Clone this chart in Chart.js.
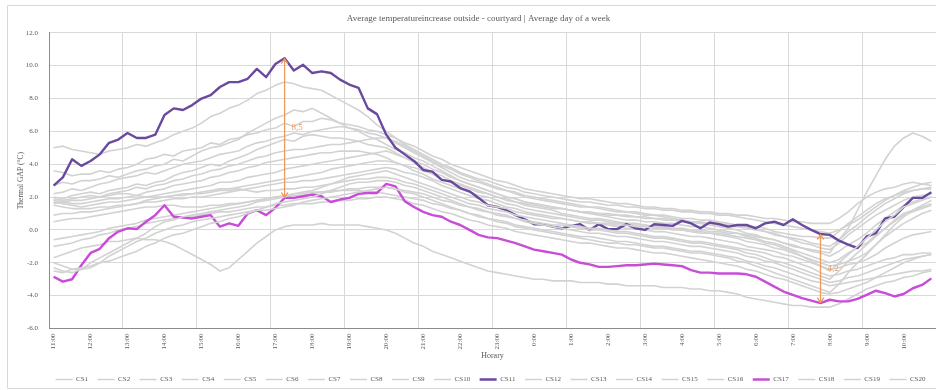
<!DOCTYPE html>
<html>
<head>
<meta charset="utf-8">
<script src="https://cdn.jsdelivr.net/npm/chart.js@4.4.1/dist/chart.umd.min.js"></script>
<style>
  html, body { margin: 0; padding: 0; background: #ffffff; }
  canvas { display: block; }
</style>
</head>
<body>
<canvas id="chart" width="936" height="390"></canvas>
<script>
// Quarter-hour time steps of the average day, 11:00 to 10:45
const times = [
  '11:00','11:15','11:30','11:45','12:00','12:15','12:30','12:45','13:00','13:15','13:30','13:45',
  '14:00','14:15','14:30','14:45','15:00','15:15','15:30','15:45','16:00','16:15','16:30','16:45',
  '17:00','17:15','17:30','17:45','18:00','18:15','18:30','18:45','19:00','19:15','19:30','19:45',
  '20:00','20:15','20:30','20:45','21:00','21:15','21:30','21:45','22:00','22:15','22:30','22:45',
  '23:00','23:15','23:30','23:45','0:00','0:15','0:30','0:45','1:00','1:15','1:30','1:45',
  '2:00','2:15','2:30','2:45','3:00','3:15','3:30','3:45','4:00','4:15','4:30','4:45',
  '5:00','5:15','5:30','5:45','6:00','6:15','6:30','6:45','7:00','7:15','7:30','7:45',
  '8:00','8:15','8:30','8:45','9:00','9:15','9:30','9:45','10:00','10:15','10:30','10:45'
];

// Thermal gap (°C) per case study
const CS1 = [5.0,5.1,4.9,4.8, 4.7,4.6,4.8,4.9, 5.0,5.2,5.1,5.3, 5.5,5.8,6.0,6.2, 6.5,6.9,7.1,7.4, 7.6,7.9,8.3,8.5,
  8.8,9.0,8.9,8.7, 8.6,8.5,8.2,7.9, 7.6,7.3,6.9,6.4, 6.0,5.6,5.2,4.9, 4.6,4.3,4.0,3.8, 3.5,3.3,3.1,3.0,
  2.8,2.6,2.5,2.3, 2.2,2.1,2.0,1.9, 1.8,1.7,1.7,1.6, 1.5,1.5,1.4,1.4, 1.3,1.3,1.2,1.2, 1.1,1.1,1.0,1.0,
  0.9,0.9,0.8,0.7, 0.6,0.5,0.4,0.3, 0.2,0.1,0.0,-0.1, -0.2,0.0,0.3,0.6, 1.0,1.4,1.8,2.1, 2.4,2.6,2.8,2.7];
const CS2 = [3.6,3.5,3.3,3.4, 3.4,3.6,3.5,3.7, 3.8,4.0,4.3,4.4, 4.6,4.5,4.8,4.9, 5.0,5.3,5.2,5.5, 5.6,5.8,5.9,6.1,
  6.2,6.5,6.3,6.6, 6.6,6.8,6.7,6.5, 6.4,6.3,6.1,6.0, 5.8,5.6,5.3,5.1, 4.8,4.5,4.3,4.0, 3.8,3.6,3.4,3.2,
  3.0,2.9,2.7,2.5, 2.4,2.3,2.2,2.1, 2.0,1.9,1.9,1.8, 1.7,1.6,1.6,1.5, 1.4,1.4,1.3,1.3, 1.2,1.2,1.1,1.1,
  1.0,1.0,0.9,0.9, 0.8,0.7,0.7,0.6, 0.5,0.5,0.4,0.4, 0.4,0.7,1.1,1.6, 2.0,2.3,2.5,2.6, 2.8,2.9,2.8,2.9];
const CS3 = [2.7,2.9,2.8,3.0, 3.0,3.1,3.3,3.2, 3.4,3.6,3.7,3.9, 4.0,4.3,4.2,4.5, 4.8,5.0,5.1,5.3, 5.5,5.9,6.2,6.5,
  6.8,7.0,7.3,7.2, 7.4,7.1,6.8,6.5, 6.2,6.0,5.7,5.5, 5.2,4.9,4.7,4.4, 4.2,3.9,3.6,3.3, 3.0,2.8,2.6,2.4,
  2.2,2.0,1.9,1.7, 1.6,1.5,1.4,1.3, 1.2,1.1,1.0,1.0, 0.9,0.9,0.8,0.8, 0.7,0.7,0.6,0.6, 0.5,0.5,0.4,0.4,
  0.3,0.2,0.2,0.1, 0.0,-0.1,-0.2,-0.4, -0.5,-0.6,-0.8,-0.9, -1.0,-0.6,-0.1,0.3, 0.8,1.2,1.6,1.9, 2.2,2.4,2.5,2.5];
const CS4 = [2.2,2.3,2.5,2.4, 2.6,2.8,2.9,3.1, 3.2,3.3,3.5,3.4, 3.6,3.8,4.0,4.1, 4.2,4.4,4.6,4.7, 4.8,5.1,5.3,5.4,
  5.6,5.7,5.9,5.8, 6.0,6.1,6.2,6.3, 6.2,6.1,5.9,5.8, 5.6,5.3,5.0,4.7, 4.4,4.1,3.8,3.5, 3.2,3.0,2.9,2.7,
  2.5,2.4,2.2,2.0, 1.9,1.8,1.7,1.6, 1.5,1.4,1.4,1.3, 1.2,1.1,1.1,1.0, 0.9,0.9,0.8,0.7, 0.6,0.5,0.4,0.3,
  0.2,0.1,0.0,-0.2, -0.3,-0.5,-0.6,-0.8, -1.0,-1.1,-1.2,-1.3, -1.4,-0.6,0.1,1.2, 2.3,3.3,4.3,5.1, 5.6,5.9,5.7,5.4];
const CS5 = [2.0,1.9,2.1,2.2, 2.3,2.2,2.4,2.5, 2.6,2.8,2.7,2.9, 3.0,3.3,3.5,3.6, 3.8,4.0,3.9,4.2, 4.4,4.6,4.9,5.1,
  5.3,5.5,5.4,5.7, 5.8,5.7,5.6,5.6, 5.5,5.4,5.2,5.1, 5.0,4.7,4.4,4.1, 3.8,3.5,3.3,3.0, 2.8,2.6,2.4,2.2,
  2.0,1.9,1.7,1.6, 1.5,1.4,1.3,1.3, 1.2,1.1,1.1,1.0, 1.0,0.9,0.9,0.8, 0.8,0.7,0.7,0.6, 0.6,0.5,0.5,0.4,
  0.4,0.3,0.3,0.2, 0.2,0.1,-0.1,-0.2, -0.3,-0.4,-0.4,-0.5, -0.5,-0.1,0.4,0.8, 1.2,1.6,1.9,2.1, 2.3,2.4,2.5,2.6];
const CS6 = [1.9,1.8,1.9,2.0, 2.1,2.0,2.2,2.3, 2.4,2.6,2.5,2.7, 2.8,3.0,3.1,3.3, 3.4,3.6,3.7,3.9, 4.0,4.2,4.4,4.5,
  4.7,4.8,4.9,4.9, 5.0,5.1,5.2,5.2, 5.3,5.4,5.5,5.6, 5.6,5.4,5.1,4.8, 4.5,4.2,3.9,3.7, 3.4,3.2,3.0,2.8,
  2.6,2.4,2.3,2.1, 2.0,1.9,1.8,1.7, 1.6,1.5,1.4,1.4, 1.3,1.2,1.1,1.1, 1.0,0.9,0.9,0.8, 0.7,0.7,0.6,0.6,
  0.5,0.4,0.3,0.2, 0.1,-0.1,-0.3,-0.4, -0.6,-0.8,-0.9,-1.1, -1.2,-0.8,-0.3,0.1, 0.5,0.9,1.2,1.5, 1.8,2.0,2.1,2.2];
const CS7 = [1.8,1.7,1.6,1.6, 1.7,1.8,1.9,1.9, 2.0,2.1,2.3,2.4, 2.5,2.7,2.8,2.9, 3.0,3.2,3.3,3.5, 3.6,3.8,3.9,4.1,
  4.2,4.3,4.4,4.5, 4.6,4.7,4.7,4.8, 4.8,4.8,4.7,4.6, 4.4,4.1,3.9,3.6, 3.4,3.1,2.9,2.7, 2.5,2.3,2.1,2.0,
  1.8,1.6,1.5,1.3, 1.2,1.1,1.0,0.9, 0.8,0.7,0.6,0.6, 0.5,0.4,0.4,0.3, 0.3,0.2,0.2,0.1, 0.1,0.0,0.0,-0.1,
  -0.1,-0.2,-0.2,-0.3, -0.4,-0.5,-0.6,-0.8, -0.9,-1.1,-1.3,-1.4, -1.6,-1.3,-0.9,-0.6, -0.2,0.3,0.7,1.1, 1.5,1.7,1.9,2.0];
const CS8 = [1.7,1.6,1.5,1.4, 1.5,1.6,1.7,1.7, 1.8,1.9,2.0,2.1, 2.2,2.3,2.4,2.5, 2.6,2.7,2.9,2.9, 3.0,3.2,3.3,3.4,
  3.5,3.7,3.8,3.9, 4.0,4.1,4.2,4.3, 4.4,4.5,4.6,4.7, 4.8,4.6,4.4,4.2, 4.0,3.7,3.5,3.2, 3.0,2.8,2.6,2.4,
  2.2,2.0,1.9,1.7, 1.6,1.5,1.4,1.3, 1.2,1.1,1.0,0.9, 0.8,0.7,0.6,0.6, 0.5,0.5,0.4,0.4, 0.3,0.2,0.2,0.1,
  0.0,-0.1,-0.2,-0.4, -0.5,-0.7,-0.8,-1.0, -1.2,-1.4,-1.6,-1.8, -2.0,-1.8,-1.4,-1.1, -0.8,-0.3,0.1,0.6, 1.0,1.2,1.4,1.6];
const CS9 = [1.6,1.7,1.8,1.8, 1.9,2.0,2.1,2.2, 2.2,2.1,2.0,2.0, 2.0,2.1,2.2,2.2, 2.3,2.4,2.5,2.5, 2.6,2.7,2.8,2.9,
  3.0,3.1,3.2,3.3, 3.4,3.5,3.7,3.8, 3.9,4.0,4.1,4.2, 4.2,4.1,3.9,3.8, 3.6,3.4,3.1,2.9, 2.7,2.5,2.3,2.2,
  2.0,1.8,1.7,1.5, 1.4,1.3,1.2,1.0, 0.9,0.8,0.7,0.7, 0.6,0.5,0.4,0.4, 0.3,0.2,0.1,0.1, 0.0,-0.1,-0.2,-0.2,
  -0.3,-0.4,-0.5,-0.7, -0.8,-0.9,-1.1,-1.2, -1.4,-1.6,-1.8,-2.0, -2.2,-2.1,-1.9,-1.7, -1.4,-0.9,-0.4,0.0, 0.4,0.7,1.0,1.2];
const CS10 = [1.5,1.4,1.3,1.3, 1.3,1.4,1.4,1.5, 1.5,1.6,1.7,1.7, 1.8,1.9,1.9,2.0, 2.0,2.1,2.2,2.3, 2.4,2.5,2.6,2.7,
  2.8,2.9,2.9,3.0, 3.0,3.1,3.2,3.3, 3.4,3.5,3.6,3.7, 3.8,3.7,3.5,3.4, 3.2,3.0,2.7,2.5, 2.3,2.1,1.9,1.8,
  1.6,1.4,1.3,1.1, 1.0,0.9,0.8,0.7, 0.6,0.5,0.4,0.4, 0.3,0.2,0.1,0.1, 0.0,-0.1,-0.1,-0.2, -0.3,-0.4,-0.4,-0.5,
  -0.6,-0.7,-0.8,-1.0, -1.1,-1.2,-1.3,-1.5, -1.6,-1.8,-2.0,-2.2, -2.4,-2.3,-2.1,-2.0, -1.8,-1.5,-1.1,-0.8, -0.5,-0.3,-0.2,-0.1];
const CS11 = [2.7,3.2,4.3,3.9, 4.2,4.6,5.3,5.5, 5.9,5.6,5.6,5.8, 7.0,7.4,7.3,7.6, 8.0,8.2,8.7,9.0, 9.0,9.2,9.8,9.3,
  10.1,10.45,9.7,10.05, 9.55,9.65,9.55,9.15, 8.85,8.65,7.4,7.05, 5.8,5.0,4.6,4.2, 3.65,3.55,3.05,2.95, 2.55,2.35,1.95,1.5,
  1.4,1.2,0.9,0.65, 0.35,0.35,0.2,0.1, 0.25,0.35,0.0,0.35, 0.05,0.05,0.35,0.1, 0.0,0.35,0.3,0.25, 0.55,0.4,0.1,0.45,
  0.35,0.2,0.3,0.3, 0.1,0.4,0.5,0.3, 0.65,0.3,0.0,-0.25, -0.3,-0.65,-0.9,-1.1, -0.4,-0.2,0.7,0.8, 1.4,1.95,1.95,2.3];
const CS12 = [0.9,1.0,1.0,1.1, 1.1,1.2,1.3,1.4, 1.5,1.6,1.8,1.9, 2.0,2.1,2.1,2.2, 2.2,2.3,2.4,2.4, 2.5,2.4,2.3,2.4,
  2.4,2.5,2.5,2.6, 2.6,2.7,2.8,2.9, 3.0,3.1,3.1,3.2, 3.2,3.1,2.9,2.8, 2.6,2.4,2.2,2.0, 1.8,1.6,1.5,1.3,
  1.2,1.1,0.9,0.8, 0.7,0.6,0.5,0.4, 0.3,0.2,0.1,0.1, 0.0,-0.1,-0.1,-0.2, -0.3,-0.4,-0.4,-0.5, -0.6,-0.7,-0.7,-0.8,
  -0.9,-1.0,-1.1,-1.2, -1.3,-1.4,-1.6,-1.7, -1.9,-2.1,-2.3,-2.6, -2.8,-2.7,-2.5,-2.4, -2.2,-2.0,-1.8,-1.7, -1.5,-1.5,-1.4,-1.4];
const CS13 = [0.5,0.6,0.7,0.7, 0.8,0.9,1.0,1.1, 1.2,1.3,1.4,1.4, 1.5,1.5,1.4,1.4, 1.4,1.5,1.5,1.6, 1.6,1.7,1.8,1.9,
  2.0,2.0,2.1,2.1, 2.2,2.3,2.3,2.4, 2.5,2.5,2.6,2.6, 2.6,2.5,2.4,2.3, 2.2,2.0,1.8,1.7, 1.5,1.4,1.2,1.1,
  0.9,0.8,0.7,0.5, 0.4,0.3,0.2,0.1, 0.0,-0.1,-0.2,-0.2, -0.3,-0.4,-0.4,-0.5, -0.6,-0.7,-0.7,-0.8, -0.9,-1.0,-1.0,-1.1,
  -1.2,-1.3,-1.4,-1.6, -1.7,-1.9,-2.0,-2.2, -2.4,-2.6,-2.8,-3.0, -3.2,-3.1,-2.9,-2.8, -2.6,-2.4,-2.2,-2.0, -1.8,-1.7,-1.6,-1.5];
const CS14 = [-0.6,-0.5,-0.4,-0.3, -0.2,-0.1,0.1,0.2, 0.3,0.4,0.6,0.7, 0.8,0.9,1.0,1.1, 1.2,1.3,1.4,1.5, 1.6,1.7,1.8,1.9,
  2.0,2.1,2.2,2.2, 2.3,2.3,2.4,2.4, 2.4,2.4,2.3,2.3, 2.2,2.1,2.0,1.9, 1.8,1.6,1.5,1.3, 1.2,1.0,0.9,0.7,
  0.6,0.5,0.3,0.2, 0.1,0.0,-0.1,-0.2, -0.3,-0.4,-0.4,-0.5, -0.6,-0.7,-0.7,-0.8, -0.9,-1.0,-1.0,-1.1, -1.2,-1.3,-1.3,-1.4,
  -1.5,-1.6,-1.7,-1.9, -2.0,-2.2,-2.3,-2.5, -2.7,-2.9,-3.1,-3.2, -3.4,-3.3,-3.2,-3.1, -3.0,-2.9,-2.8,-2.7, -2.6,-2.5,-2.5,-2.4];
const CS15 = [-1.0,-0.9,-0.8,-0.6, -0.5,-0.3,-0.2,0.0, 0.1,0.2,0.4,0.5, 0.6,0.7,0.8,0.8, 0.9,1.0,1.1,1.1, 1.2,1.3,1.4,1.4,
  1.5,1.5,1.6,1.6, 1.6,1.7,1.7,1.8, 1.8,1.9,1.9,2.0, 2.0,1.9,1.8,1.6, 1.5,1.3,1.1,1.0, 0.8,0.6,0.5,0.3,
  0.2,0.1,-0.1,-0.2, -0.3,-0.4,-0.5,-0.6, -0.7,-0.8,-0.8,-0.9, -1.0,-1.1,-1.1,-1.2, -1.3,-1.4,-1.4,-1.5, -1.6,-1.7,-1.8,-1.9,
  -2.0,-2.1,-2.2,-2.4, -2.5,-2.7,-2.9,-3.0, -3.2,-3.4,-3.6,-3.8, -3.9,-3.8,-3.6,-3.4, -3.2,-2.9,-2.6,-2.3, -2.0,-1.8,-1.6,-1.5];
const CS16 = [-1.7,-1.5,-1.3,-1.1, -1.0,-0.9,-0.7,-0.7, -0.6,-0.5,-0.6,-0.6, -0.7,-0.9,-1.2,-1.5, -1.8,-2.1,-2.5,-2.3, -1.8,-1.3,-0.8,-0.4,
  0.0,0.2,0.3,0.3, 0.3,0.4,0.3,0.3, 0.3,0.3,0.2,0.1, 0.0,-0.2,-0.5,-0.8, -1.0,-1.3,-1.5,-1.7, -1.9,-2.1,-2.3,-2.5,
  -2.6,-2.7,-2.8,-2.9, -3.0,-3.0,-3.1,-3.1, -3.1,-3.2,-3.2,-3.2, -3.3,-3.3,-3.4,-3.4, -3.4,-3.4,-3.5,-3.5, -3.5,-3.6,-3.6,-3.7,
  -3.7,-3.8,-3.9,-4.1, -4.2,-4.3,-4.4,-4.5, -4.6,-4.6,-4.7,-4.7, -4.7,-4.5,-4.2,-3.9, -3.6,-3.4,-3.2,-3.1, -2.9,-2.8,-2.6,-2.5];
const CS17 = [-2.85,-3.15,-3.0,-2.15, -1.4,-1.15,-0.5,-0.1, 0.1,0.05,0.5,0.9, 1.5,0.8,0.75,0.7, 0.8,0.9,0.2,0.4, 0.25,1.0,1.2,0.9,
  1.35,1.95,1.95,2.05, 2.15,2.05,1.7,1.85, 1.95,2.2,2.25,2.25, 2.8,2.65,1.75,1.4, 1.1,0.9,0.8,0.5, 0.3,0.0,-0.3,-0.45,
  -0.5,-0.65,-0.8,-1.0, -1.2,-1.3,-1.4,-1.5, -1.8,-2.0,-2.1,-2.25, -2.25,-2.2,-2.15,-2.15, -2.1,-2.05,-2.1,-2.15, -2.2,-2.45,-2.6,-2.6,
  -2.65,-2.65,-2.65,-2.7, -2.85,-3.15,-3.45,-3.75, -3.95,-4.15,-4.3,-4.45, -4.25,-4.35,-4.35,-4.2, -3.95,-3.7,-3.85,-4.05, -3.9,-3.55,-3.35,-2.95];
const CS18 = [-2.0,-2.2,-2.4,-2.4, -2.3,-2.0,-1.6,-1.3, -1.0,-0.7,-0.5,-0.2, 0.0,0.2,0.3,0.5, 0.6,0.7,0.8,0.9, 1.0,1.1,1.2,1.2,
  1.3,1.4,1.5,1.7, 1.8,1.9,2.0,2.1, 2.2,2.3,2.4,2.5, 2.6,2.5,2.3,2.2, 2.0,1.8,1.6,1.4, 1.2,1.0,0.8,0.7,
  0.5,0.4,0.2,0.1, 0.0,-0.1,-0.2,-0.3, -0.4,-0.5,-0.6,-0.7, -0.8,-0.8,-0.9,-0.9, -1.0,-1.1,-1.1,-1.2, -1.3,-1.4,-1.4,-1.5,
  -1.6,-1.7,-1.9,-2.0, -2.2,-2.4,-2.6,-2.8, -3.0,-3.2,-3.4,-3.6, -3.8,-3.3,-2.6,-2.0, -1.5,-0.9,-0.3,0.3, 0.8,1.2,1.5,1.8];
const CS19 = [-2.3,-2.5,-2.6,-2.4, -2.0,-1.7,-1.4,-1.1, -0.8,-0.5,-0.2,0.2, 0.5,0.6,0.8,0.9, 1.0,1.1,1.2,1.3, 1.4,1.5,1.7,1.8,
  1.9,2.0,2.2,2.3, 2.4,2.6,2.8,3.0, 3.2,3.3,3.4,3.5, 3.6,3.4,3.2,3.0, 2.8,2.6,2.4,2.2, 2.0,1.8,1.7,1.5,
  1.4,1.3,1.1,1.0, 0.9,0.8,0.7,0.7, 0.6,0.5,0.5,0.4, 0.4,0.3,0.3,0.2, 0.2,0.1,0.1,0.0, 0.0,-0.1,-0.1,-0.2,
  -0.2,-0.3,-0.4,-0.5, -0.6,-0.8,-0.9,-1.1, -1.3,-1.6,-1.9,-2.2, -2.5,-2.0,-1.5,-1.0, -0.5,0.0,0.5,0.9, 1.4,1.6,1.8,2.0];
const CS20 = [-2.5,-2.6,-2.4,-2.3, -2.2,-2.0,-1.9,-1.7, -1.5,-1.3,-1.0,-0.8, -0.5,-0.3,-0.2,0.0, 0.2,0.4,0.5,0.7, 0.8,1.0,1.2,1.4,
  1.6,1.7,1.8,1.9, 2.0,2.2,2.4,2.6, 2.8,2.9,2.9,3.0, 3.0,2.9,2.7,2.6, 2.4,2.2,2.0,1.8, 1.6,1.4,1.3,1.1,
  1.0,0.9,0.7,0.6, 0.5,0.4,0.3,0.3, 0.2,0.1,0.0,0.0, -0.1,-0.2,-0.2,-0.3, -0.4,-0.5,-0.5,-0.6, -0.7,-0.8,-0.8,-0.9,
  -1.0,-1.1,-1.2,-1.4, -1.5,-1.7,-1.9,-2.0, -2.2,-2.4,-2.6,-2.8, -3.0,-2.5,-1.9,-1.4, -0.9,-0.4,0.1,0.5, 0.9,1.1,1.3,1.5];

const seriesNames = ['CS1','CS2','CS3','CS4','CS5','CS6','CS7','CS8','CS9','CS10',
                     'CS11','CS12','CS13','CS14','CS15','CS16','CS17','CS18','CS19','CS20'];
const seriesValues = [CS1,CS2,CS3,CS4,CS5,CS6,CS7,CS8,CS9,CS10,
                      CS11,CS12,CS13,CS14,CS15,CS16,CS17,CS18,CS19,CS20];

// Quarter-hour positions where the CS11 / CS17 gap is marked with an arrow
const gapMarks = [25, 83];

const FONT = "'Liberation Serif', 'Times New Roman', serif";
const TEXT = '#595959';
const highlight = { CS11: '#6a4a9e', CS17: '#c84cd8' };

const datasets = seriesNames.map((name, i) => ({
  label: name,
  data: seriesValues[i],
  borderColor: highlight[name] || '#d2d2d2',
  backgroundColor: highlight[name] || '#d2d2d2',
  borderWidth: highlight[name] ? 2.4 : 1.6,
  pointRadius: 0,
  pointHoverRadius: 0,
  tension: 0,
  fill: false,
  borderJoinStyle: 'round',
  order: -i
}));

// Chart frame
const framePlugin = {
  id: 'frame',
  beforeDraw(chart) {
    const { ctx, width } = chart;
    ctx.save();
    ctx.fillStyle = '#ffffff';
    ctx.fillRect(0, 0, width, chart.height);
    ctx.strokeStyle = '#d9d9d9';
    ctx.lineWidth = 1;
    ctx.beginPath();
    ctx.moveTo(width, 5.5);
    ctx.lineTo(7.5, 5.5);
    ctx.lineTo(7.5, 388.5);
    ctx.lineTo(width, 388.5);
    ctx.stroke();
    ctx.restore();
  }
};

// Title and legend sit a little right of the canvas centre
const boxShift = {
  id: 'boxShift',
  afterLayout(chart) {
    const lg = chart.legend;
    if (lg) { lg.left += 19; lg.right += 19; }
    const tb = chart.titleBlock;
    if (tb) { tb.left += 7; tb.right += 7; }
  }
};

// Double-headed arrows between CS11 and CS17 with the gap value
const gapPlugin = {
  id: 'gapArrows',
  afterDatasetsDraw(chart) {
    const { ctx, scales: { x, y } } = chart;
    ctx.save();
    ctx.strokeStyle = '#ee9a5c';
    ctx.fillStyle = '#ee9a5c';
    ctx.lineWidth = 1.3;
    ctx.lineCap = 'round';
    ctx.lineJoin = 'round';
    gapMarks.forEach(i => {
      const hi = CS11[i];
      const lo = CS17[i];
      const px = x.getPixelForValue(i);
      const y1 = y.getPixelForValue(hi);
      const y2 = y.getPixelForValue(lo);
      ctx.beginPath();
      ctx.moveTo(px, y1 + 1);
      ctx.lineTo(px, y2 - 1);
      ctx.stroke();
      ctx.beginPath();
      ctx.moveTo(px - 3, y1 + 5);
      ctx.lineTo(px, y1 + 0.5);
      ctx.lineTo(px + 3, y1 + 5);
      ctx.moveTo(px - 3, y2 - 5);
      ctx.lineTo(px, y2 - 0.5);
      ctx.lineTo(px + 3, y2 - 5);
      ctx.stroke();
      ctx.font = '9px ' + FONT;
      ctx.textAlign = 'left';
      ctx.textBaseline = 'middle';
      ctx.fillText((hi - lo).toFixed(1).replace('.', ','), px + 7, (y1 + y2) / 2);
    });
    ctx.restore();
  }
};

new Chart(document.getElementById('chart'), {
  type: 'line',
  data: { labels: times, datasets },
  plugins: [framePlugin, boxShift, gapPlugin],
  options: {
    responsive: false,
    animation: false,
    devicePixelRatio: 1,
    layout: { padding: { left: 7, right: 0, top: 5, bottom: -3 } },
    interaction: { mode: null },
    plugins: {
      tooltip: { enabled: false },
      title: {
        display: true,
        text: 'Average temperatureincrease outside - courtyard | Average day of a week',
        color: TEXT,
        font: { family: FONT, size: 9, weight: 'normal' },
        padding: { top: 8, bottom: 9 }
      },
      legend: {
        position: 'bottom',
        align: 'center',
        labels: {
          usePointStyle: true,
          pointStyle: 'line',
          pointStyleWidth: 17,
          boxHeight: 7,
          padding: 9.5,
          color: TEXT,
          font: { family: FONT, size: 7 },
          sort: (a, b) => a.datasetIndex - b.datasetIndex
        }
      }
    },
    scales: {
      x: {
        type: 'category',
        offset: true,
        grid: {
          offset: true,
          drawTicks: false,
          color: c => (c.index % 8 === 0 ? '#d9d9d9' : 'rgba(0,0,0,0)'),
          lineWidth: 1
        },
        border: { color: '#8c8c8c', width: 1 },
        ticks: {
          autoSkip: false,
          minRotation: 90,
          maxRotation: 90,
          padding: 5,
          color: TEXT,
          font: { family: FONT, size: 7 },
          callback: (v, i) => (i % 4 === 0 ? times[i] : '')
        },
        title: {
          display: true,
          text: 'Horary',
          color: TEXT,
          font: { family: FONT, size: 8 },
          padding: { top: 3, bottom: 6 }
        },
        afterFit: scale => {
          scale.height = 38;
          scale.paddingLeft = 0;
          scale.paddingRight = 0;
        }
      },
      y: {
        min: -6,
        max: 12,
        grid: { color: '#d9d9d9', drawTicks: false, lineWidth: 1 },
        border: { color: '#8c8c8c', width: 1 },
        ticks: {
          stepSize: 2,
          padding: 11,
          color: TEXT,
          font: { family: FONT, size: 7 },
          callback: v => Number(v).toFixed(1)
        },
        title: {
          display: true,
          text: 'Thermal GAP (°C)',
          color: TEXT,
          font: { family: FONT, size: 7.5 },
          padding: { top: 10, bottom: 0 }
        },
        afterFit: scale => { scale.width = 42; }
      }
    }
  }
});
</script>
</body>
</html>
